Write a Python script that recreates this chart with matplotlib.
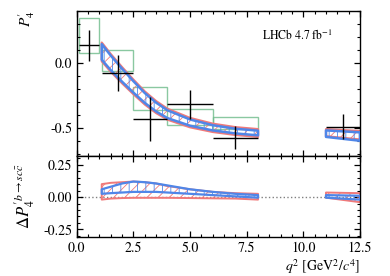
import numpy as np
import matplotlib as mpl
import matplotlib.pyplot as plt

mpl.rcParams['font.family'] = 'STIXGeneral'
mpl.rcParams['mathtext.fontset'] = 'stix'
mpl.rcParams['hatch.linewidth'] = 0.6

# LHCb data points (bins and P4' values)
bin_lo = np.array([0.1, 1.1, 2.5, 4.0, 6.0, 11.0])
bin_hi = np.array([0.98, 2.5, 4.0, 6.0, 8.0, 12.5])
p4_val = np.array([0.135, -0.077, -0.435, -0.32, -0.575, -0.49])
p4_err = np.array([0.12, 0.14, 0.17, 0.115, 0.09, 0.095])

# binned SM prediction boxes
sm_lo_bin = np.array([0.1, 1.1, 2.5, 4.0, 6.0])
sm_hi_bin = np.array([0.98, 2.5, 4.0, 6.0, 8.0])
sm_low = np.array([0.075, -0.062, -0.362, -0.477, -0.508])
sm_high = np.array([0.348, 0.098, -0.182, -0.356, -0.413])

# fitted bands, low q2 segment and high q2 segment
q2_a = np.array([1.1, 1.5, 2.0, 2.5, 3.0, 3.5, 4.0, 5.0, 6.0, 7.0, 8.0])
q2_b = np.array([11.0, 12.5])

red_lo_a = np.array([0.013, -0.068, -0.157, -0.241, -0.32, -0.386, -0.437, -0.496, -0.532, -0.555, -0.57])
red_hi_a = np.array([0.157, 0.068, -0.033, -0.129, -0.22, -0.294, -0.353, -0.424, -0.468, -0.495, -0.51])
blue_lo_a = np.array([0.025, -0.056, -0.145, -0.229, -0.308, -0.374, -0.425, -0.484, -0.52, -0.543, -0.558])
blue_hi_a = np.array([0.145, 0.056, -0.045, -0.141, -0.232, -0.306, -0.365, -0.436, -0.48, -0.507, -0.522])
red_lo_b = np.array([-0.565, -0.59])
red_hi_b = np.array([-0.51, -0.525])
blue_lo_b = np.array([-0.57, -0.60])
blue_hi_b = np.array([-0.52, -0.535])

# delta P4' bands
d_red_lo_a = np.array([-0.02, -0.012, -0.008, -0.006, -0.006, -0.006, -0.006, -0.008, -0.01, -0.012, -0.02])
d_red_hi_a = np.array([0.10, 0.11, 0.115, 0.12, 0.115, 0.105, 0.085, 0.06, 0.04, 0.03, 0.025])
d_blue_lo_a = np.array([0.025, 0.03, 0.035, 0.04, 0.04, 0.04, 0.035, 0.025, 0.015, 0.005, -0.005])
d_blue_hi_a = np.array([0.06, 0.08, 0.105, 0.12, 0.115, 0.105, 0.09, 0.06, 0.04, 0.025, 0.015])
d_red_lo_b = np.array([-0.005, -0.04])
d_red_hi_b = np.array([0.035, 0.03])
d_blue_lo_b = np.array([-0.005, -0.02])
d_blue_hi_b = np.array([0.015, 0.01])

red = '#f07a7a'
blue = '#4f86e8'
green = '#6dbb8a'

fig = plt.figure(figsize=(3.9, 2.76), dpi=100)
gs = fig.add_gridspec(2, 1, height_ratios=[144, 81], hspace=0,
                      left=0.197, right=0.923, top=0.960, bottom=0.141)
ax = fig.add_subplot(gs[0])
ax2 = fig.add_subplot(gs[1], sharex=ax)


def band(a, x, lo, hi, col, hatch, lw, z):
    a.fill_between(x, lo, hi, facecolor='none', edgecolor=col, hatch=hatch,
                   linewidth=lw, zorder=z)


for q, rl, rh, bl, bh in [(q2_a, red_lo_a, red_hi_a, blue_lo_a, blue_hi_a),
                          (q2_b, red_lo_b, red_hi_b, blue_lo_b, blue_hi_b)]:
    band(ax, q, rl, rh, red, '///', 1.6, 2)
    band(ax, q, bl, bh, blue, '||', 1.8, 3)

ax.bar((sm_lo_bin + sm_hi_bin) / 2, sm_high - sm_low, bottom=sm_low,
       width=sm_hi_bin - sm_lo_bin, fill=False, edgecolor=green, alpha=0.8,
       linewidth=1.0, zorder=1)

ax.errorbar((bin_lo + bin_hi) / 2, p4_val, yerr=p4_err,
            xerr=(bin_hi - bin_lo) / 2, fmt='none', ecolor='k',
            elinewidth=1.0, capsize=0, zorder=4)

ax.text(0.655, 0.80, r'LHCb 4.7 fb$^{-1}$', transform=ax.transAxes, fontsize=8.5)

for q, rl, rh, bl, bh in [(q2_a, d_red_lo_a, d_red_hi_a, d_blue_lo_a, d_blue_hi_a),
                          (q2_b, d_red_lo_b, d_red_hi_b, d_blue_lo_b, d_blue_hi_b)]:
    band(ax2, q, rl, rh, red, '///', 1.4, 2)
    band(ax2, q, bl, bh, blue, '||', 1.6, 3)
ax2.axhline(0, color='gray', ls=':', lw=1.0, zorder=1)

ax.set_xlim(0, 12.5)
ax.set_ylim(-0.715, 0.4)
ax2.set_ylim(-0.31, 0.32)
ax.set_yticks([-0.5, 0.0])
ax.yaxis.set_minor_locator(mpl.ticker.MultipleLocator(0.1))
ax2.set_yticks([-0.25, 0.0, 0.25])
ax2.yaxis.set_minor_locator(mpl.ticker.MultipleLocator(0.05))
ax2.set_xticks([0, 2.5, 5, 7.5, 10, 12.5])
ax2.xaxis.set_minor_locator(mpl.ticker.MultipleLocator(0.5))
ax2.yaxis.set_major_formatter(mpl.ticker.FormatStrFormatter('%.2f'))
ax2.xaxis.set_major_formatter(mpl.ticker.FormatStrFormatter('%.1f'))
ax.yaxis.set_major_formatter(mpl.ticker.FormatStrFormatter('%.1f'))
plt.setp(ax.get_xticklabels(), visible=False)

for a in (ax, ax2):
    a.tick_params(which='both', direction='in', top=True, right=True, labelsize=10)
    a.tick_params(which='major', length=4.5, width=0.9)
    a.tick_params(which='minor', length=2.5, width=0.8)
    for s in a.spines.values():
        s.set_linewidth(1.0)

ax.set_ylabel(r"$P_4'$", fontsize=11, loc='top')
ax2.set_ylabel(r"$\Delta P_4^{\prime\, b\to sc\bar{c}}$", fontsize=12)
ax2.set_xlabel(r'$q^2$ [GeV$^2/c^4$]', fontsize=10, loc='right', labelpad=1)
fig.align_ylabels([ax, ax2])

fig.savefig('out.png', dpi=100)
